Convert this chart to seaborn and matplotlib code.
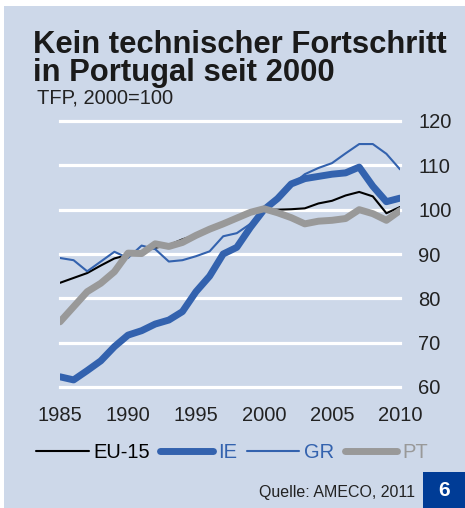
import matplotlib
matplotlib.use("Agg")
import matplotlib.pyplot as plt
import seaborn as sns
import pandas as pd
from matplotlib.patches import Rectangle

years = list(range(1985, 2011))
eu15 = [83.5, 84.6, 85.7, 87.4, 89.0, 89.8, 90.6, 91.4, 92.0, 93.3, 94.3, 95.4, 96.5, 97.8, 99.0, 100.0,
        100.0, 100.1, 100.3, 101.4, 102.0, 103.2, 104.0, 103.0, 99.2, 100.6]
ie = [62.3, 61.6, 63.7, 65.9, 69.1, 71.7, 72.7, 74.2, 75.1, 77.0, 81.5, 85.0, 90.0, 91.5, 96.0, 100.0,
      102.5, 105.8, 107.0, 107.5, 108.0, 108.3, 109.6, 105.3, 101.8, 102.6]
gr = [89.1, 88.6, 86.1, 88.3, 90.5, 89.1, 91.9, 91.1, 88.3, 88.6, 89.5, 90.6, 94.0, 94.7, 96.8, 100.0,
      102.3, 105.5, 108.0, 109.4, 110.5, 112.7, 114.8, 114.8, 112.6, 109.1]
pt = [74.7, 78.1, 81.5, 83.4, 86.0, 90.2, 90.1, 92.3, 91.7, 92.6, 94.2, 95.6, 96.8, 98.1, 99.4, 100.2,
      99.3, 98.2, 96.8, 97.4, 97.6, 98.0, 100.0, 99.1, 97.6, 99.8]

labels = ["EU-15", "IE", "GR", "PT"]
xticks = [1985, 1990, 1995, 2000, 2005, 2010]
yticks = [60, 70, 80, 90, 100, 110, 120]

BG = "#cdd8e9"
BLUE = "#3362ae"
GREY = "#999999"

W, H = 465, 508
fig = plt.figure(figsize=(W / 100, H / 100), dpi=100)
fig.patch.set_facecolor("white")
plt.rcParams['font.family'] = ['Liberation Sans', 'DejaVu Sans']

def fx(x):
    return x / W

def fy(y):
    return 1 - y / H

fig.patches.append(Rectangle((fx(4), 0), 1 - fx(4), fy(6), transform=fig.transFigure,
                             facecolor=BG, edgecolor="none", zorder=-10))
fig.patches.append(Rectangle((fx(423), 0), 1 - fx(423), fy(472), transform=fig.transFigure,
                             facecolor="#003c96", edgecolor="none", zorder=-5))

ax = fig.add_axes([fx(60), fy(387), fx(400) - fx(60), fy(121) - fy(387)])
ax.set_facecolor("none")
ax.set_zorder(2)

df = pd.DataFrame({"year": years, "EU-15": eu15, "IE": ie, "GR": gr, "PT": pt})
styles = {"EU-15": ("black", 1.5), "IE": (BLUE, 5.0), "GR": (BLUE, 1.5), "PT": (GREY, 5.0)}
handles = []
for i, name in enumerate(labels):
    c, lw = styles[name]
    sns.lineplot(data=df, x="year", y=name, ax=ax, color=c, linewidth=lw, zorder=3 + i,
                 solid_capstyle="round", solid_joinstyle="round", legend=False)
    handles.append(ax.lines[-1])

ax.set_xlim(1985, 2010)
ax.set_ylim(60, 120)
ax.set_xticks(xticks)
ax.set_yticks(yticks)
ax.set_xlabel("")
ax.set_ylabel("")
ax.yaxis.tick_right()
ax.tick_params(axis="both", length=0, labelsize=14.5, colors="#222222")
ax.tick_params(axis="y", pad=13)
ax.tick_params(axis="x", pad=14)
for s in ax.spines.values():
    s.set_visible(False)
ax.grid(False)
for yv in yticks:
    ax.axhline(yv, color="white", linewidth=2.3, zorder=1, clip_on=False)

fig.text(fx(33), fy(53), "Kein technischer Fortschritt", fontsize=22.3, fontweight="bold",
         color="#1a1a1a", va="baseline", ha="left")
fig.text(fx(33), fy(81), "in Portugal seit 2000", fontsize=22.3, fontweight="bold",
         color="#1a1a1a", va="baseline", ha="left")
fig.text(fx(37), fy(103), "TFP, 2000=100", fontsize=14.5, color="#222222", va="baseline", ha="left")

leg = fig.legend(handles, labels, loc="center", bbox_to_anchor=(fx(232), fy(453)), ncol=4,
                 frameon=False, fontsize=14.5, handlelength=2.6, handletextpad=0.25,
                 columnspacing=0.5, labelcolor="linecolor", borderaxespad=0)

fig.text(fx(415), fy(497), "Quelle: AMECO, 2011", fontsize=11.5, color="#222222",
         va="baseline", ha="right")
fig.text(fx(444), fy(490), "6", fontsize=15, fontweight="bold", color="white",
         va="center", ha="center")

fig.savefig("out.png", dpi=100)
